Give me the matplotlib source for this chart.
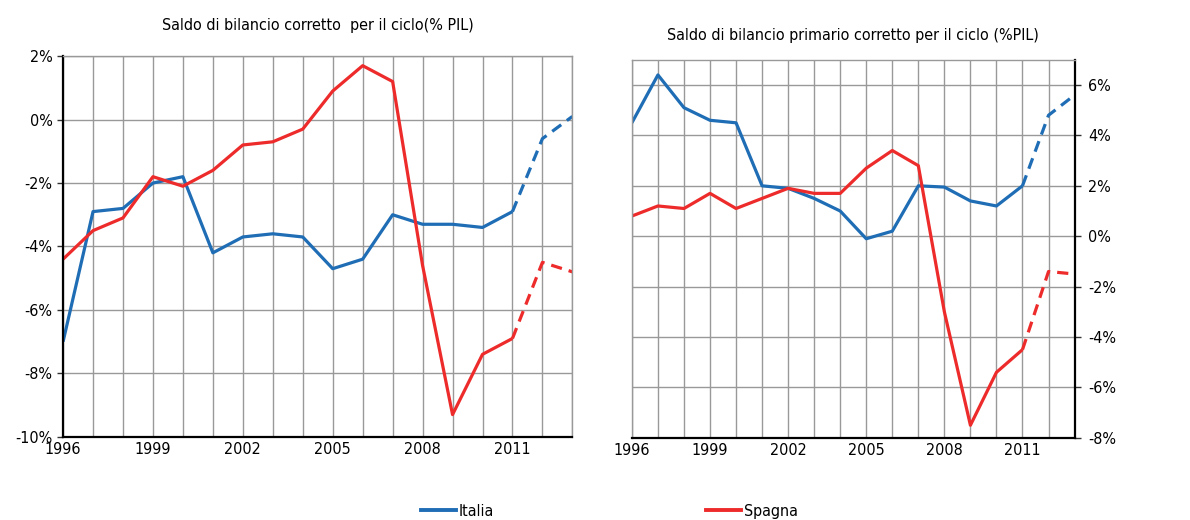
import matplotlib
matplotlib.use("Agg")
import matplotlib.pyplot as plt
from matplotlib.lines import Line2D
from matplotlib.ticker import FuncFormatter, MultipleLocator

plt.rcParams['font.family'] = ['DejaVu Sans']
plt.rcParams['font.stretch'] = 'condensed'

years = list(range(1996, 2014))

# saldo di bilancio corretto per il ciclo (% PIL)
italia_saldo = [-7.0, -2.9, -2.8, -2.0, -1.8, -4.2, -3.7, -3.6, -3.7, -4.7,
                -4.4, -3.0, -3.3, -3.3, -3.4, -2.9, -0.6, 0.1]
spagna_saldo = [-4.4, -3.5, -3.1, -1.8, -2.1, -1.6, -0.8, -0.7, -0.3, 0.9,
                1.7, 1.2, -4.6, -9.3, -7.4, -6.9, -4.5, -4.8]

# saldo primario corretto per il ciclo (% PIL)
italia_primario = [4.5, 6.4, 5.1, 4.6, 4.5, 2.0, 1.9, 1.5, 1.0, -0.1,
                   0.2, 2.0, 1.95, 1.4, 1.2, 2.0, 4.8, 5.6]
spagna_primario = [0.8, 1.2, 1.1, 1.7, 1.1, 1.5, 1.9, 1.7, 1.7, 2.7,
                   3.4, 2.8, -3.0, -7.5, -5.4, -4.5, -1.4, -1.5]

xtick_years = [1996, 1999, 2002, 2005, 2008, 2011]
last_actual = 2011

BLUE = '#1f6db5'
RED = '#ee2b2b'
GRID = '#999999'


def draw_series(ax, vals, color):
    # solid up to the last actual year, dashed for the projections
    k = years.index(last_actual)
    ax.plot(years[:k + 1], vals[:k + 1], color=color, lw=2.3, solid_capstyle='butt')
    ax.plot(years[k:], vals[k:], color=color, lw=2.3, ls=(0, (3.5, 2.2)))


def style_axes(ax, ylim, side):
    ax.set_xlim(1996, 2013)
    ax.set_ylim(*ylim)
    ax.yaxis.set_major_locator(MultipleLocator(2))
    ax.grid(True, color=GRID, lw=1.0)
    ax.set_axisbelow(True)
    ax.set_xticks(years)
    ax.set_xticklabels([str(y) if y in xtick_years else '' for y in years])
    ax.tick_params(axis='x', length=0, pad=4, labelsize=11.5)
    ax.yaxis.set_major_formatter(FuncFormatter(lambda v, p: f"{v:.0f}%"))
    ax.tick_params(axis='y', length=4, width=1, labelsize=11.5, color='#333333')
    for s in ax.spines.values():
        s.set_color(GRID)
        s.set_linewidth(1.0)
    ax.spines['bottom'].set_color('black')
    ax.spines['bottom'].set_linewidth(1.6)
    if side == 'left':
        ax.spines['left'].set_color('black')
        ax.spines['left'].set_linewidth(1.6)
    else:
        ax.yaxis.tick_right()
        ax.spines['right'].set_color('black')
        ax.spines['right'].set_linewidth(1.6)
        ax.tick_params(axis='y', pad=6)


fig = plt.figure(figsize=(11.9, 5.2), dpi=100)
ax1 = fig.add_axes([0.053, 0.160, 0.428, 0.732])
ax2 = fig.add_axes([0.531, 0.158, 0.372, 0.727])

style_axes(ax1, (-10, 2), 'left')
draw_series(ax1, italia_saldo, BLUE)
draw_series(ax1, spagna_saldo, RED)
ax1.set_title("Saldo di bilancio corretto  per il ciclo(% PIL)", fontsize=11.5, pad=19)

style_axes(ax2, (-8, 7), 'right')
draw_series(ax2, italia_primario, BLUE)
draw_series(ax2, spagna_primario, RED)
ax2.set_title("Saldo di bilancio primario corretto per il ciclo (%PIL)", fontsize=11.5, pad=14)

handles = [Line2D([], [], color=BLUE, lw=2.8), Line2D([], [], color=RED, lw=2.8)]
fig.legend(handles, ['Italia', 'Spagna'], loc='lower center', ncol=2, frameon=False,
           bbox_to_anchor=(0.512, -0.025), fontsize=11.5, handlelength=2.2,
           handletextpad=0.15, columnspacing=13.3)

fig.savefig('out.png', dpi=100)
